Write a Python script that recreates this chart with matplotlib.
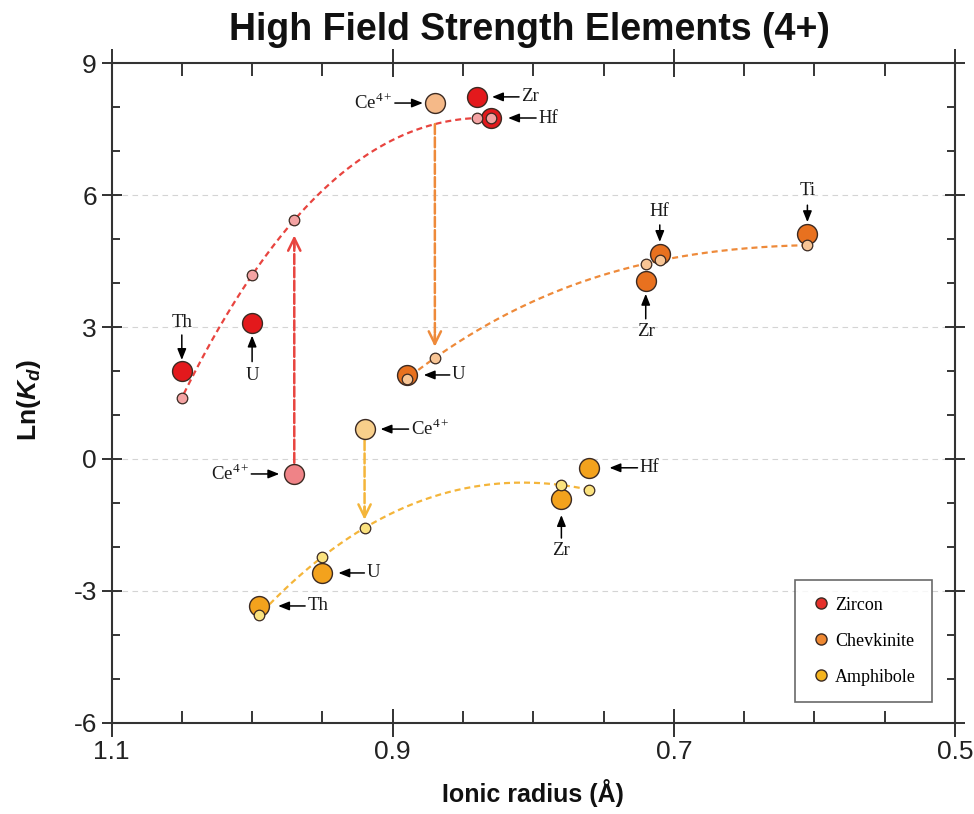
import numpy as np
import matplotlib
matplotlib.use("Agg")
import matplotlib.pyplot as plt
from matplotlib.lines import Line2D

plt.rcParams["font.family"] = ["Liberation Sans", "DejaVu Sans"]
plt.rcParams["mathtext.fontset"] = "custom"
plt.rcParams["mathtext.rm"] = "Liberation Serif"
plt.rcParams["mathtext.it"] = "Liberation Sans:bold:italic"
plt.rcParams["mathtext.bf"] = "Liberation Sans:bold"

# ---------------- data: ionic radius (Å) and ln(Kd) ----------------
zircon_elements = ["Th", "U", "Zr", "Hf"]
zircon_radius = [1.05, 1.00, 0.84, 0.83]
zircon_lnkd = [2.00, 3.10, 8.23, 7.75]
zircon_ce_radius = 0.97
zircon_ce_lnkd = -0.34
zircon_fit_radius = [1.05, 1.00, 0.97, 0.84, 0.83]
zircon_fit_lnkd = [1.39, 4.18, 5.43, 7.75, 7.75]

chev_elements = ["U", "Zr", "Hf", "Ti"]
chev_radius = [0.89, 0.72, 0.71, 0.605]
chev_lnkd = [1.91, 4.05, 4.66, 5.11]
chev_ce_radius = 0.87
chev_ce_lnkd = 8.09
chev_fit_radius = [0.89, 0.87, 0.72, 0.71, 0.605]
chev_fit_lnkd = [1.82, 2.30, 4.43, 4.52, 4.86]

amph_elements = ["Th", "U", "Zr", "Hf"]
amph_radius = [0.995, 0.95, 0.78, 0.76]
amph_lnkd = [-3.34, -2.59, -0.91, -0.20]
amph_ce_radius = 0.92
amph_ce_lnkd = 0.68
amph_fit_radius = [0.995, 0.95, 0.92, 0.78, 0.76]
amph_fit_lnkd = [-3.55, -2.22, -1.57, -0.59, -0.70]

mineral_names = ["Zircon", "Chevkinite", "Amphibole"]
x_ticks = [1.1, 0.9, 0.7, 0.5]
y_ticks = [-6, -3, 0, 3, 6, 9]

# ---------------- styles ----------------
EDGE = "#3b2a22"
styles = {
    "Zircon": dict(main="#E3191C", fit="#F4A3A3", ce="#EF8387", curve="#E8443F", legend="#E5302A"),
    "Chevkinite": dict(main="#E8711F", fit="#F8C595", ce="#F5B988", curve="#EE8A3A", legend="#EE8832"),
    "Amphibole": dict(main="#F3A21D", fit="#FBE27E", ce="#F8CF8B", curve="#F4B53A", legend="#F5B41E"),
}
BIG = 205
SMALL = 58

fig = plt.figure(figsize=(9.74, 8.14), dpi=100)
ax = fig.add_axes([0.1145, 0.1118, 0.866, 0.8108])

datasets = [
    ("Zircon", zircon_radius, zircon_lnkd, zircon_ce_radius, zircon_ce_lnkd,
     zircon_fit_radius, zircon_fit_lnkd),
    ("Chevkinite", chev_radius, chev_lnkd, chev_ce_radius, chev_ce_lnkd,
     chev_fit_radius, chev_fit_lnkd),
    ("Amphibole", amph_radius, amph_lnkd, amph_ce_radius, amph_ce_lnkd,
     amph_fit_radius, amph_fit_lnkd),
]

fits = {}
for name, r, k, cr, ck, fr, fk in datasets:
    st = styles[name]
    coef = np.polyfit(fr, fk, 3)
    fits[name] = np.poly1d(coef)
    xs = np.linspace(min(fr), max(fr), 200)
    ax.plot(xs, fits[name](xs), color=st["curve"], lw=1.6,
            linestyle=(0, (2.7, 1.8)), zorder=2)
    ax.scatter(r, k, s=BIG, c=st["main"], edgecolors=EDGE, linewidths=1.0, zorder=4)
    ax.scatter([cr], [ck], s=BIG, c=st["ce"], edgecolors=EDGE, linewidths=1.0, zorder=4)
    ax.scatter(fr, fk, s=SMALL, c=st["fit"], edgecolors=EDGE, linewidths=0.9, zorder=5)


def dashed_arrow(x, y_from, y_to, color, gap_from, gap_to):
    """Dashed vertical shaft with a solid open arrowhead at its end."""
    ax.annotate("", xy=(x, y_to), xytext=(x, y_from),
                arrowprops=dict(arrowstyle="-", color=color, lw=1.8,
                                linestyle=(0, (4, 1.3)),
                                shrinkA=gap_from, shrinkB=gap_to + 2),
                zorder=3)
    sign = 1 if y_from > y_to else -1
    ax.annotate("", xy=(x, y_to), xytext=(0, sign * (gap_to + 9)),
                textcoords="offset points",
                arrowprops=dict(arrowstyle="->,head_length=0.45,head_width=0.22",
                                color=color, lw=1.8, shrinkA=0, shrinkB=gap_to,
                                mutation_scale=20),
                zorder=3)


# Ce4+ shifts between observed value and lattice-strain curves
dashed_arrow(zircon_ce_radius, zircon_ce_lnkd,
             zircon_fit_lnkd[zircon_fit_radius.index(zircon_ce_radius)],
             styles["Zircon"]["curve"], 8, 11)
dashed_arrow(chev_ce_radius, float(fits["Zircon"](chev_ce_radius)),
             chev_fit_lnkd[chev_fit_radius.index(chev_ce_radius)],
             styles["Chevkinite"]["curve"], 0, 8)
dashed_arrow(amph_ce_radius, amph_ce_lnkd,
             amph_fit_lnkd[amph_fit_radius.index(amph_ce_radius)],
             styles["Amphibole"]["curve"], 8, 6)

# element labels: (text, x, y, side, tip gap px, arrow start px, text offset px)
CE = "Ce$^{4+}$"
labels = [
    ("Th", zircon_radius[0], zircon_lnkd[0], "up", 11, 36, 48),
    ("U", zircon_radius[1], zircon_lnkd[1], "down", 13, 39, 53),
    (CE, zircon_ce_radius, zircon_ce_lnkd, "left", 15, 43, 45),
    ("Zr", zircon_radius[2], zircon_lnkd[2], "right", 15, 42, 44),
    ("Hf", zircon_radius[3], zircon_lnkd[3], "right", 17, 45, 47),
    (CE, chev_ce_radius, chev_ce_lnkd, "left", 12, 40, 42),
    ("U", chev_radius[0], chev_lnkd[0], "right", 17, 43, 45),
    ("Zr", chev_radius[1], chev_lnkd[1], "down", 13, 38, 51),
    ("Hf", chev_radius[2], chev_lnkd[2], "up", 12, 29, 42),
    ("Ti", chev_radius[3], chev_lnkd[3], "up", 12, 29, 44),
    (CE, amph_ce_radius, amph_ce_lnkd, "right", 16, 44, 46),
    ("Th", amph_radius[0], amph_lnkd[0], "right", 19, 46, 48),
    ("U", amph_radius[1], amph_lnkd[1], "right", 16, 42, 44),
    ("Zr", amph_radius[2], amph_lnkd[2], "down", 16, 39, 51),
    ("Hf", amph_radius[3], amph_lnkd[3], "right", 20, 48, 50),
]
PX = 0.72
dirs = {"up": (0, 1), "down": (0, -1), "left": (-1, 0), "right": (1, 0)}
for text, x, y, side, tip, start, toff in labels:
    dx, dy = dirs[side]
    ax.annotate("", xy=(x, y), xycoords="data",
                xytext=(dx * start * PX, dy * start * PX), textcoords="offset points",
                arrowprops=dict(arrowstyle="-|>,head_length=0.55,head_width=0.22",
                                color="black", lw=1.1, shrinkA=0, shrinkB=tip * PX,
                                mutation_scale=12),
                zorder=6)
    ha = {"up": "center", "down": "center", "left": "right", "right": "left"}[side]
    ax.annotate(text, xy=(x, y), xytext=(dx * toff * PX, dy * toff * PX),
                textcoords="offset points", ha=ha, va="center",
                fontsize=13.5, family="Liberation Serif", color="#1a1a1a", zorder=6)

# ---------------- axes ----------------
ax.set_xlim(1.1, 0.5)
ax.set_ylim(-6, 9)
ax.set_xticks(x_ticks)
ax.set_xticklabels([f"{v:.1f}" for v in x_ticks])
ax.set_xticks(np.arange(0.5, 1.1001, 0.05), minor=True)
ax.set_yticks(y_ticks)
ax.set_yticklabels([str(v) for v in y_ticks])
ax.set_yticks(np.arange(-6, 9.5, 1), minor=True)

ax.tick_params(axis="x", which="major", direction="inout", length=20, width=1.3,
               top=True, bottom=True, labelsize=19, pad=2, colors="#222")
ax.tick_params(axis="x", which="minor", direction="in", length=9, width=1.1,
               top=True, bottom=True)
ax.tick_params(axis="y", which="major", direction="inout", length=15, width=1.3,
               left=True, right=True, labelsize=19, pad=3, colors="#222")
ax.tick_params(axis="y", which="minor", direction="in", length=6, width=1.1,
               left=True, right=True)
for sp in ax.spines.values():
    sp.set_linewidth(1.5)
    sp.set_color("#333333")

for yv in y_ticks[1:-1]:
    ax.axhline(yv, color="#d4d4d4", lw=0.8, linestyle=(0, (5, 4)), zorder=0)

# legend
handles = [Line2D([], [], linestyle="none", marker="o", markersize=8,
                  markerfacecolor=styles[n]["legend"], markeredgecolor=EDGE,
                  markeredgewidth=1.0) for n in mineral_names]
leg = ax.legend(handles, mineral_names, loc="lower right",
                bbox_to_anchor=(0.973, 0.032), frameon=True, fancybox=False,
                prop={"family": "Liberation Serif", "size": 13},
                labelspacing=1.05, borderpad=0.9, handletextpad=0.3,
                handlelength=1.0, borderaxespad=0)
leg.get_frame().set_edgecolor("#444444")
leg.get_frame().set_linewidth(1.2)

# titles
fig.text(0.544, 0.951, "High Field Strength Elements (4+)", ha="center",
         va="baseline", fontsize=27, fontweight="bold", color="#111")
fig.text(0.547, (814 - 802) / 814, "Ionic radius (Å)", ha="center",
         va="baseline", fontsize=18, fontweight="bold", color="#111")
fig.text(0.03, (814 - 400) / 814, "Ln($K_d$)", ha="center", va="center",
         rotation=90, fontsize=19, fontweight="bold", color="#111")

fig.savefig("out.png", dpi=100)
